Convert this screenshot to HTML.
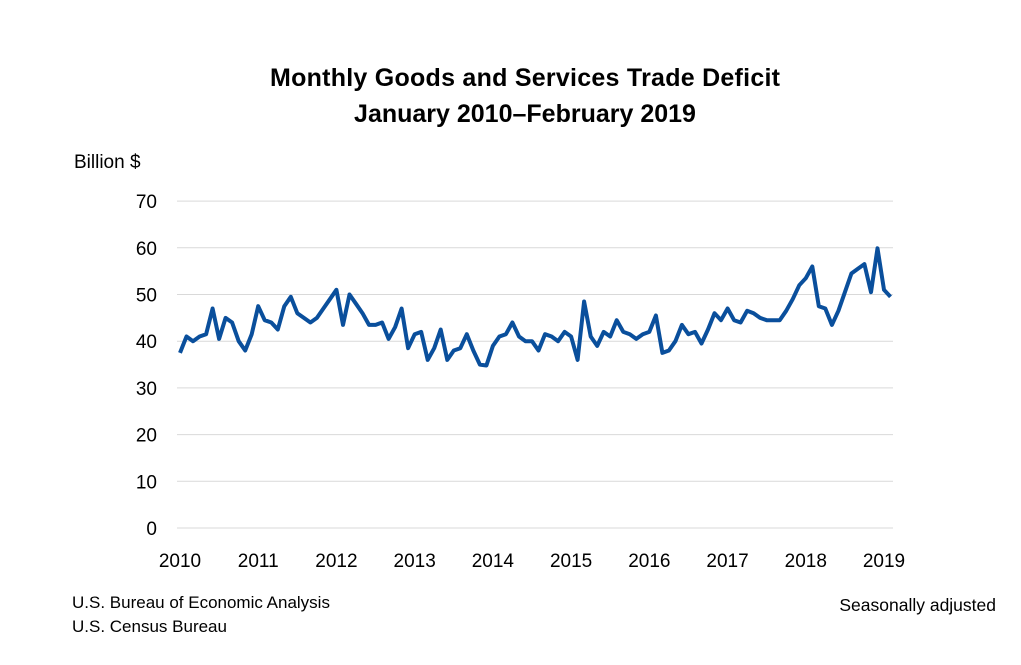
<!DOCTYPE html>
<html><head><meta charset="utf-8"><style>
body{margin:0;background:#fff;font-family:"Liberation Sans",Arial,sans-serif;}
svg{display:block}
</style></head><body>
<svg width="1021" height="665">
<text x="525" y="86" text-anchor="middle" font-size="25" font-weight="bold" fill="#000" textLength="510">Monthly Goods and Services Trade Deficit</text>
<text x="525" y="122" text-anchor="middle" font-size="25" font-weight="bold" fill="#000">January 2010–February 2019</text>
<text x="74" y="168" font-size="19" fill="#000">Billion $</text>
<g id="grid"></g><g id="yt"></g><g id="xt"></g>
<path id="line" fill="none" stroke="#0a4f9c" stroke-width="4" stroke-linejoin="round"/>
<text x="72" y="608" font-size="17" fill="#000">U.S. Bureau of Economic Analysis</text>
<text x="72" y="632" font-size="17" fill="#000">U.S. Census Bureau</text>
<text x="996" y="611" text-anchor="end" font-size="17.5" fill="#000">Seasonally adjusted</text>
</svg>
<script>
const yTicks=[0,10,20,30,40,50,70,60];
const xLabels=["2010","2011","2012","2013","2014","2015","2016","2017","2018","2019"];
const values=[37.5,41,40,41,41.5,47,40.5,45,44,40,38,41.5,
47.5,44.5,44,42.5,47.5,49.5,46,45,44,45,47,49,
51,43.5,50,48,46,43.5,43.5,44,40.5,43,47,38.5,
41.5,42,36,38.5,42.5,36,38,38.5,41.5,38,35,34.8,
39,41,41.5,44,41,40,40,38,41.5,41,40,42,
41,36,48.5,41,39,42,41,44.5,42,41.5,40.5,41.5,
42,45.5,37.5,38,40,43.5,41.5,42,39.5,42.5,46,44.5,
47,44.5,44,46.5,46,45,44.5,44.5,44.5,46.5,49,52,
53.5,56,47.5,47,43.5,46.5,50.5,54.5,55.5,56.5,50.5,59.9,
51,49.5];
const NS="http://www.w3.org/2000/svg";
const y=v=>528-v*4.67;
const x=m=>180+m*(704/108);
const grid=document.getElementById('grid'),yt=document.getElementById('yt'),xt=document.getElementById('xt');
yTicks.forEach(t=>{
 const l=document.createElementNS(NS,'line');
 l.setAttribute('x1',177);l.setAttribute('x2',893);l.setAttribute('y1',y(t));l.setAttribute('y2',y(t));
 l.setAttribute('stroke','#d9d9d9');l.setAttribute('stroke-width',1);
 
 
 grid.appendChild(l);
 const tx=document.createElementNS(NS,'text');
 tx.setAttribute('x',157);tx.setAttribute('y',y(t)+7);tx.setAttribute('text-anchor','end');tx.setAttribute('font-size',19);tx.setAttribute('fill','#000');
 tx.textContent=t;
 
 
 yt.appendChild(tx);
});
xLabels.forEach((s,i)=>{
 const tx=document.createElementNS(NS,'text');
 tx.setAttribute('x',x(i*12));tx.setAttribute('y',567);tx.setAttribute('text-anchor','middle');tx.setAttribute('font-size',19);tx.setAttribute('fill','#000');
 tx.textContent=s;
 
 
 xt.appendChild(tx);
});
document.getElementById('line').setAttribute('d',values.map((v,i)=>(i?'L':'M')+x(i).toFixed(1)+','+y(v).toFixed(1)).join(''));
</script>
</body></html>
